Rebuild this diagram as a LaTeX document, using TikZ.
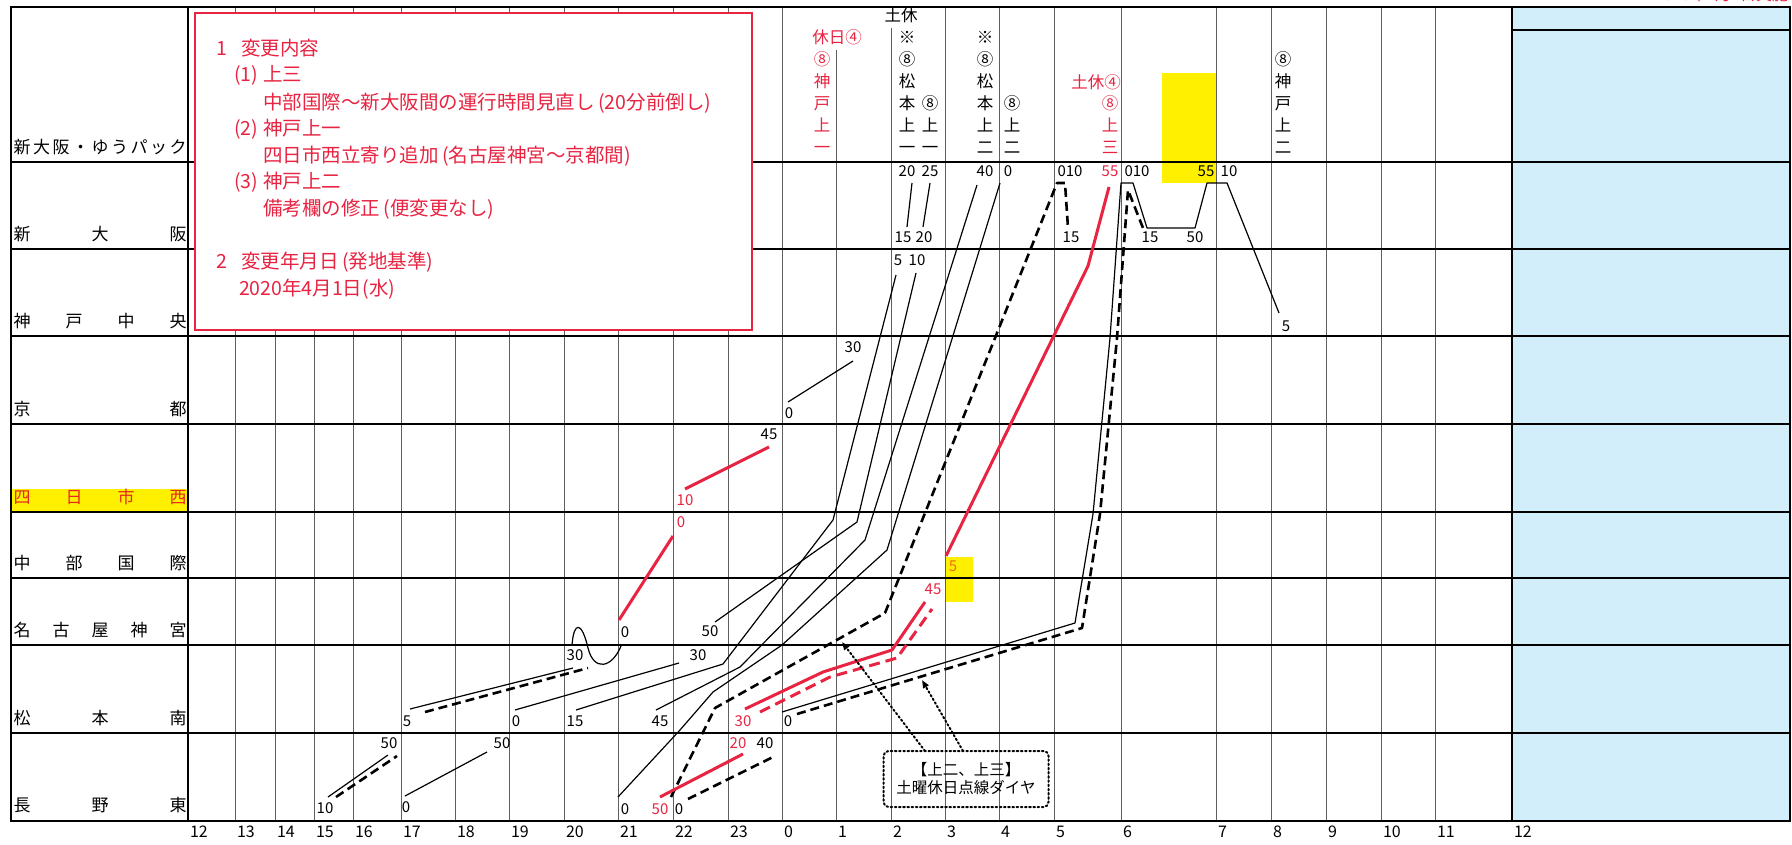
\documentclass[tikz,border=0pt]{standalone}
\usepackage{fontspec}
\setmainfont{Noto Sans CJK JP}
\usetikzlibrary{arrows.meta}
\definecolor{jred}{RGB}{232,36,66}
\definecolor{jblue}{RGB}{210,238,251}
\definecolor{jyel}{RGB}{255,240,0}
\definecolor{jorange}{RGB}{240,110,20}
\definecolor{jstred}{RGB}{230,40,30}
\definecolor{gridc}{RGB}{95,95,95}
\newcommand\StnRow[5]{\foreach \c [count=\i from 0] in {#5} {\node[stx,#4] (#1\i) at ({22+\i*156/(#3-1)},#2) {\c};}}
\newcommand\VStack[4]{\foreach \c/\yy [count=\i] in {#4} {\node[hdx,#3] (#1\i) at (#2,\yy) {\c};}}
\newcommand\LP{\hspace{0.2em}(}
\newcommand\RP{)\hspace{0.2em}}
\begin{document}
\begin{tikzpicture}[x=1pt,y=-1pt,
  every node/.style={inner sep=0pt,outer sep=0pt,text height=0.82em,text depth=0.12em},
  hl/.style={line width=1.8pt,black},
  vl/.style={line width=0.8pt,gridc},
  frame/.style={line width=2.4pt,black},
  tr/.style={line width=1.2pt,black,line join=round},
  trd/.style={line width=2.6pt,black,dash pattern=on 9pt off 5pt,line join=round},
  rtr/.style={line width=3pt,jred,line join=round},
  rtrd/.style={line width=3pt,jred,dash pattern=on 11pt off 6pt,line join=round},
  num/.style={font=\fontsize{15}{15}\selectfont},
  rnum/.style={num,text=jred},
  axl/.style={font=\fontsize{16}{16}\selectfont,anchor=west},
  stx/.style={font=\fontsize{17}{17}\selectfont},
  hdx/.style={font=\fontsize{16.5}{16.5}\selectfont},
  bx/.style={font=\fontsize{19.5}{20}\selectfont,text=jred,anchor=west},
  dotl/.style={line width=2pt,dash pattern=on 1.6pt off 2.6pt,line cap=round},
  dotarrow/.style={dotl,-{Triangle[length=8pt,width=6pt]}}
]
\useasboundingbox (0,0) rectangle (1792,844);
\fill[white] (0,0) rectangle (1792,844);
% coloured areas
\fill[jblue] (1512,7) rectangle (1790,821);
\fill[jyel] (12,489) rectangle (188,511);
\fill[jyel] (1162,73) rectangle (1217,183);
\fill[jyel] (945,557) rectangle (973,602);
% hour lines
\foreach \x in {235,275,314,353,401,455,509,564,618,673,728,782,945,999,1054,1121,1216,1271,1326,1381,1435}
  \draw[vl] (\x,7) -- (\x,821);
\draw[vl] (836,50) -- (836,821);
\draw[vl] (891,28) -- (891,821);
% station lines
\foreach \y in {162,249,336,424,512,578,645,733}
  \draw[hl] (11,\y) -- (1790,\y);
\draw[hl] (1512,30) -- (1790,30);
% frame
\draw[frame] (11,7) rectangle (1790,821);
\draw[frame] (188,7) -- (188,821);
\draw[frame] (1512,7) -- (1512,821);
% axis labels
\foreach \x/\t [count=\k] in {188/12,235/13,275/14,314/15,353/16,401/17,455/18,509/19,564/20,618/21,673/22,728/23,782/0,836/1,891/2,945/3,999/4,1054/5,1121/6,1216/7,1271/8,1326/9,1381/10,1435/11,1512/12}{
  \node[axl] (bot\k) at (\x+2,834) {\t};
  \node[axl] (top\k) at (\x+2,-4) {\t};
}
\node[font=\fontsize{16}{16}\selectfont,text=jred,anchor=east] (impl) at (1788,-3) {2020年4月1日実施};
% station names
\StnRow{sa}{150}{9}{}{新,大,阪,・,ゆ,う,パ,ッ,ク}
\StnRow{sb}{237}{3}{}{新,大,阪}
\StnRow{sc}{324}{4}{}{神,戸,中,央}
\StnRow{sd}{412}{2}{}{京,都}
\StnRow{se}{500}{4}{text=jstred}{四,日,市,西}
\StnRow{sf}{566}{4}{}{中,部,国,際}
\StnRow{sg}{633}{5}{}{名,古,屋,神,宮}
\StnRow{sh}{721}{3}{}{松,本,南}
\StnRow{si}{808}{3}{}{長,野,東}
% red notice box
\draw[line width=2.6pt,jred,fill=white] (195,13) rectangle (752,330);
\node[bx] (b1a) at (216,52) {1};
\node[bx] (b1b) at (241,52) {変更内容};
\node[bx] (b2a) at (234,78) {(1)};
\node[bx] (b2b) at (263,78) {上三};
\node[bx] (b3) at (263,106) {中部国際～新大阪間の運行時間見直し\LP 20分前倒し\RP};
\node[bx] (b4a) at (234,132) {(2)};
\node[bx] (b4b) at (263,132) {神戸上一};
\node[bx] (b5) at (263,159) {四日市西立寄り追加\LP 名古屋神宮～京都間\RP};
\node[bx] (b6a) at (234,185) {(3)};
\node[bx] (b6b) at (263,185) {神戸上二};
\node[bx] (b7) at (263,212) {備考欄の修正\LP 便変更なし\RP};
\node[bx] (b8a) at (216,265) {2};
\node[bx] (b8b) at (241,265) {変更年月日\LP 発地基準\RP};
\node[bx] (b9) at (239,292) {2020年4月1日(水)};
% header train names
\node[hdx,text=jred] (h1t) at (837,40) {休日④};
\VStack{h1}{822}{text=jred}{⑧/62,神/84,戸/106,上/128,一/150}
\node[hdx] (h2t) at (901,18) {土休};
\VStack{h2}{907}{}{※/40,⑧/62,松/84,本/106,上/128,一/150}
\VStack{h3}{930}{}{⑧/106,上/128,一/150}
\VStack{h4}{985}{}{※/40,⑧/62,松/84,本/106,上/128,二/150}
\VStack{h5}{1012}{}{⑧/106,上/128,二/150}
\node[hdx,text=jred] (h6t) at (1096,85) {土休④};
\VStack{h6}{1110}{text=jred}{⑧/106,上/128,三/150}
\VStack{h7}{1283}{}{⑧/62,神/84,戸/106,上/128,二/150}
% time numbers
\node[num] (t1) at (907,173) {20};
\node[num] (t2) at (930,173) {25};
\node[num] (t3) at (985,173) {40};
\node[num] (t4) at (1008,173) {0};
\node[num] (t5) at (1070,173) {010};
\node[rnum] (t6) at (1110,173) {55};
\node[num] (t7) at (1137,173) {010};
\node[num] (t8) at (1206,173) {55};
\node[num] (t9) at (1229,173) {10};
\node[num] (t10) at (903,239) {15};
\node[num] (t11) at (924,239) {20};
\node[num] (t12) at (1071,239) {15};
\node[num] (t13) at (1150,239) {15};
\node[num] (t14) at (1195,239) {50};
\node[num] (t15) at (898,262) {5};
\node[num] (t16) at (917,262) {10};
\node[num] (t17) at (1286,328) {5};
\node[num] (t18) at (853,349) {30};
\node[num] (t19) at (789,415) {0};
\node[num] (t20) at (769,436) {45};
\node[rnum] (t21) at (685,502) {10};
\node[rnum] (t22) at (681,524) {0};
\node[num,text=jorange] (t23) at (953,568) {5};
\node[rnum] (t24) at (933,591) {45};
\node[num] (t25) at (625,634) {0};
\node[num] (t26) at (710,633) {50};
\node[num] (t27) at (575,657) {30};
\node[num] (t28) at (698,657) {30};
\node[num] (t29) at (407,723) {5};
\node[num] (t30) at (516,723) {0};
\node[num] (t31) at (575,723) {15};
\node[num] (t32) at (660,723) {45};
\node[rnum] (t33) at (743,723) {30};
\node[num] (t34) at (788,723) {0};
\node[num] (t35) at (389,745) {50};
\node[num] (t36) at (502,745) {50};
\node[rnum] (t37) at (738,745) {20};
\node[num] (t38) at (765,745) {40};
\node[num] (t39) at (325,810) {10};
\node[num] (t40) at (406,809) {0};
\node[num] (t41) at (625,811) {0};
\node[rnum] (t42) at (660,811) {50};
\node[num] (t43) at (679,811) {0};
% black solid trains
\draw[tr] (328,797) -- (388,755);
\draw[tr] (405,796) -- (487,752);
\draw[tr] (410,709) -- (573,668);
\draw[tr] (515,710) -- (679,663);
\draw[tr] (576,710) -- (723,664) -- (833,520) -- (896,275);
\draw[tr] (656,710) -- (740,667) -- (865,540) -- (977,185);
\draw[tr] (618,797) -- (680,730) -- (713,692) -- (782,645) -- (887,550) -- (1000,183);
\draw[tr] (715,622) -- (857,522) -- (916,273);
\draw[tr] (907,227) -- (912,183);
\draw[tr] (923,227) -- (930,183);
\draw[tr] (788,402) -- (853,361);
\draw[tr] (782,712) -- (1075,623) -- (1093,514) -- (1110,338) -- (1121,183) -- (1133,183) -- (1147,228) -- (1195,228) -- (1207,183) -- (1227,183) -- (1279,313);
\draw[tr] (572,645) .. controls (574,620) and (582,622) .. (588,648) .. controls (594,672) and (612,668) .. (621,646);
% black dashed trains
\draw[trd] (336,797) -- (397,756);
\draw[trd] (425,712) -- (588,668);
\draw[trd] (688,799) -- (773,757);
\draw[trd] (671,797) -- (715,708) -- (885,613) -- (1057,183) -- (1065,183) -- (1068,228);
\draw[trd] (797,714) -- (1082,628) -- (1100,514) -- (1117,338) -- (1128,190) -- (1143,228);
% red trains
\draw[rtr] (619,620) -- (673,536);
\draw[rtr] (685,489) -- (769,447);
\draw[rtr] (660,797) -- (743,754);
\draw[rtr] (745,709) -- (823,672) -- (892,650) -- (925,602);
\draw[rtr] (946,556) -- (1088,266) -- (1109,187);
\draw[rtrd] (760,712) -- (830,677) -- (897,658) -- (932,609);
% callout
\node[draw,dotl,rounded corners=5pt,minimum width=165pt,minimum height=56pt,align=center,
      font=\fontsize{15.5}{18}\selectfont,text height=,text depth=] (note) at (966,779) {【上二、上三】\\土曜休日点線ダイヤ};
\coordinate (a1s) at (925,751);
\coordinate (a1e) at (842,642);
\coordinate (a2s) at (963,751);
\coordinate (a2e) at (922,680);
\draw[dotarrow] (a1s) -- (a1e);
\draw[dotarrow] (a2s) -- (a2e);
\end{tikzpicture}
\end{document}
